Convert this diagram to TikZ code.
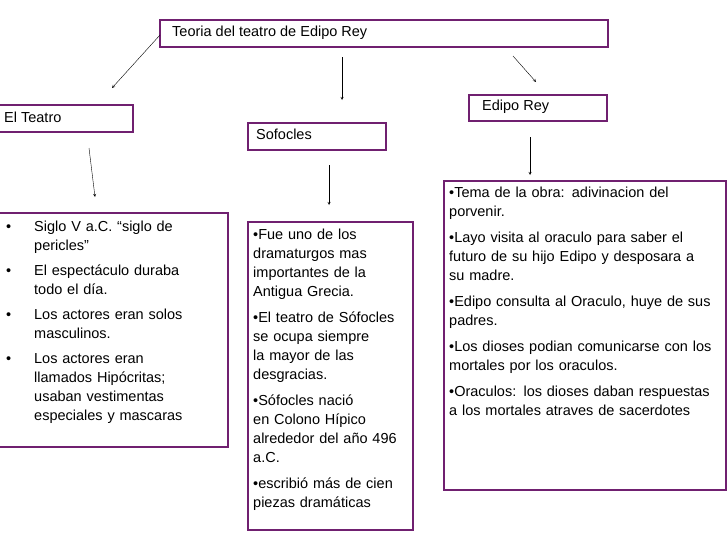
\documentclass[tikz,border=0pt]{standalone}
\usepackage{fontspec}
\setmainfont{Liberation Sans}
\usetikzlibrary{positioning}
\definecolor{boxpurple}{RGB}{112,32,112}
\tikzset{
  pbox/.style={draw=boxpurple,line width=2pt},
  lbl/.style={anchor=north west,inner sep=0pt,font=\fontsize{14.5}{19}\selectfont},
  arr/.style={->,>=stealth,thin}
}
\newcommand{\gap}{\par\vspace{7pt}}
\newcommand{\bitem}[1]{\hangindent=28pt\hangafter=1\noindent\makebox[28pt][l]{•}#1\par\vspace{6pt}}
\begin{document}
\begin{tikzpicture}[x=1pt,y=-1pt]
\useasboundingbox (0,0) rectangle (728,546);
% boxes
\draw[pbox] (160,20) rectangle (608,47);
\draw[pbox] (-1,105) rectangle (133,132);
\draw[pbox] (248,123) rectangle (386,150);
\draw[pbox] (469,95) rectangle (607,121);
\draw[pbox] (-1,213) rectangle (228,447);
\draw[pbox] (248,222) rectangle (413,530);
\draw[pbox] (444,181) rectangle (726,490);
% titles
\node[lbl] (titulo) at (172,26) {Teoria del teatro de Edipo Rey};
\node[lbl] (teatro) at (4,112) {El Teatro};
\node[lbl] (sofocles) at (256,129) {Sofocles};
\node[lbl] (edipo) at (482,100) {Edipo Rey};
% lists
\node[lbl,text width=198pt,align=left] (listaA) at (6,221) {%
  \hyphenpenalty=10000
  \bitem{Siglo V a.C. “siglo de pericles”}
  \bitem{El espectáculo duraba todo el día.}
  \bitem{Los actores eran solos masculinos.}
  \bitem{Los actores eran llamados Hipócritas; usaban vestimentas especiales y mascaras}};
\node[lbl,text width=150pt,align=left] (listaB) at (253,229) {%
  \hyphenpenalty=10000
  •Fue uno de los dramaturgos mas importantes de la Antigua Grecia.\gap
  •El teatro de Sófocles se ocupa siempre la mayor de las desgracias.\gap
  •Sófocles nació en Colono Hípico alrededor del año 496 a.C.\gap
  •escribió más de cien piezas dramáticas};
\node[lbl,text width=272pt,align=left] (listaC) at (449,187) {%
  \hyphenpenalty=10000
  •Tema de la obra: adivinacion del porvenir.\gap
  •Layo visita al oraculo para saber el futuro de su hijo Edipo y desposara a su madre.\gap
  •Edipo consulta al Oraculo, huye de sus padres.\gap
  •Los dioses podian comunicarse con los mortales por los oraculos.\gap
  •Oraculos: los dioses daban respuestas a los mortales atraves de sacerdotes};
% arrows
\coordinate (a1) at (160,35); \coordinate (b1) at (112,88);
\coordinate (a2) at (342,57); \coordinate (b2) at (342,100);
\coordinate (a3) at (513,56); \coordinate (b3) at (536,82);
\coordinate (a4) at (89,148); \coordinate (b4) at (95,197);
\coordinate (a5) at (329,165); \coordinate (b5) at (329,205);
\coordinate (a6) at (530,137); \coordinate (b6) at (530,175);
\foreach \i in {1,...,6}
  \draw[arr] (a\i) -- (b\i);
\end{tikzpicture}
\end{document}
